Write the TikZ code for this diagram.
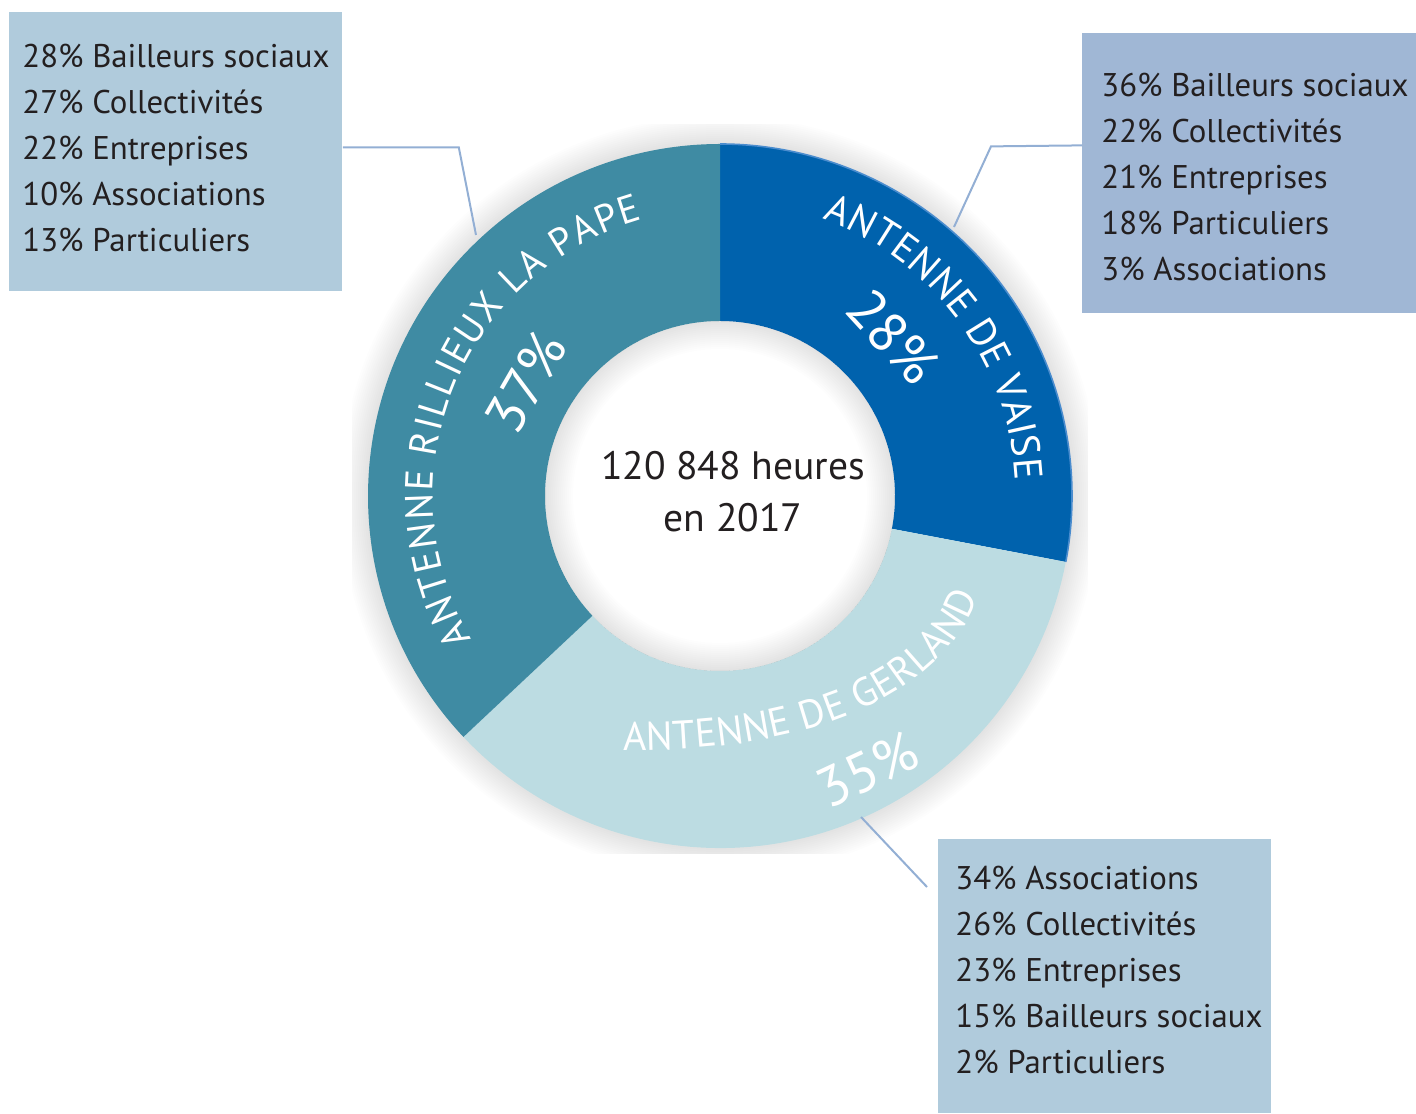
\documentclass[tikz,border=0pt]{standalone}
\usepackage{fontspec}
\setmainfont{PT Sans}
\usepackage{xcolor}
\usepackage{tikz}
\usetikzlibrary{positioning,calc,decorations.text}
\definecolor{vaiseblue}{RGB}{0,98,173}
\definecolor{vaiseedge}{RGB}{74,140,206}
\definecolor{rilteal}{RGB}{63,139,163}
\definecolor{gerlight}{RGB}{188,220,226}
\definecolor{boxblue}{RGB}{176,203,220}
\definecolor{boxlav}{RGB}{160,183,213}
\definecolor{linkblue}{RGB}{147,175,212}
\definecolor{inkgray}{RGB}{35,31,32}

\begin{document}
\begin{tikzpicture}[
    x=0.5pt, y=0.5pt,
    infobox/.style={rectangle, anchor=north west, inner sep=0pt, minimum width=166.5pt, minimum height=139.5pt},
    listtext/.style={anchor=west, inner sep=0pt, align=left, text=inkgray, font=\fontsize{16.4}{23}\selectfont},
    link/.style={draw=linkblue, line width=1pt},
    pct/.style={inner sep=0pt, text=white, font=\fontsize{28}{30}\selectfont},
    ringlabel/.style={decorate, decoration={text along path, text align=fit to path, text={#1}}}
]
    \useasboundingbox (0,0) rectangle (1416,1113);
    \coordinate (c) at (720,617);

    \begin{scope}
        \clip (352,260) rectangle (1088,988);
        \foreach \i in {1,...,14}
            \fill[black, opacity=0.008, even odd rule] (c) circle[radius=352+2*\i] circle[radius=340];
    \end{scope}

    \foreach \a/\b/\col in {90/-10.8/vaiseblue, -10.8/-136.8/gerlight, -136.8/-270/rilteal}
        \fill[\col] ($(c)+(\a:352)$) arc[start angle=\a, end angle=\b, radius=352]
            -- ($(c)+(\b:175)$) arc[start angle=\b, end angle=\a, radius=175] -- cycle;
    \draw[vaiseedge, line width=0.8pt] ($(c)+(90:352)$) arc[start angle=90, end angle=-10.8, radius=352];

    \foreach \i in {1,...,14}
        \fill[black, opacity=0.008, even odd rule] (c) circle[radius=175] circle[radius=175-2*\i];

    \path[ringlabel={|\color{white}\fontsize{19.5}{21}\selectfont|ANTENNE RILLIEUX LA PAPE}]
        ($(c)+(210:287)$) arc[start angle=210, end angle=105.6, radius=287];
    \path[ringlabel={|\color{white}\fontsize{20}{22}\selectfont|ANTENNE DE VAISE}]
        ($(c)+(69.7:296)$) arc[start angle=69.7, end angle=3, radius=296];
    \path[ringlabel={|\color{white}\fontsize{20}{22}\selectfont|ANTENNE DE GERLAND}]
        (623,363) .. controls (850,360) and (950,440) .. (978,516);

    \node[pct, rotate=60] (rilpct) at ($(c)+(149.6:225)$) {37\%};
    \node[pct, rotate=-47.4] (vaipct) at ($(c)+(42.6:235)$) {28\%};
    \node[pct, rotate=25] (gerpct) at ($(c)+(-61.7:311)$) {35\%};

    \node[align=center, text=inkgray, font=\fontsize{19.8}{26}\selectfont] (total) at (733,621) {120 848 heures\\en 2017};

    \node[infobox, fill=boxblue] (rilbox) at (9,1101) {};
    \node[infobox, fill=boxlav, minimum width=167pt, minimum height=140pt] (vaibox) at (1082,1080) {};
    \node[infobox, fill=boxblue, minimum height=137pt] (gerbox) at (938,274) {};

    \node[listtext] (riltext) at ([xshift=6.5pt, yshift=1.75pt]rilbox.west) {28\% Bailleurs sociaux\\27\% Collectivités\\22\% Entreprises\\10\% Associations\\13\% Particuliers};
    \node[listtext] (vaitext) at ([xshift=9.5pt, yshift=-2pt]vaibox.west) {36\% Bailleurs sociaux\\22\% Collectivités\\21\% Entreprises\\18\% Particuliers\\3\% Associations};
    \node[listtext] (gertext) at ([xshift=8.5pt, yshift=3.25pt]gerbox.west) {34\% Associations\\26\% Collectivités\\23\% Entreprises\\15\% Bailleurs sociaux\\2\% Particuliers};

    \coordinate (rilpt) at (476,878);
    \coordinate (vaipt) at (954,886);
    \coordinate (gerpt) at (861,296);
    \draw[link] ([yshift=2.25pt]rilbox.east) -- ++(116,0) -- (rilpt);
    \draw[link] ([yshift=14pt]vaibox.west) -- ++(-91,-1) -- (vaipt);
    \draw[link] (gerpt) -- ($(gerbox.north west)+(-11,-48)$);
\end{tikzpicture}
\end{document}
